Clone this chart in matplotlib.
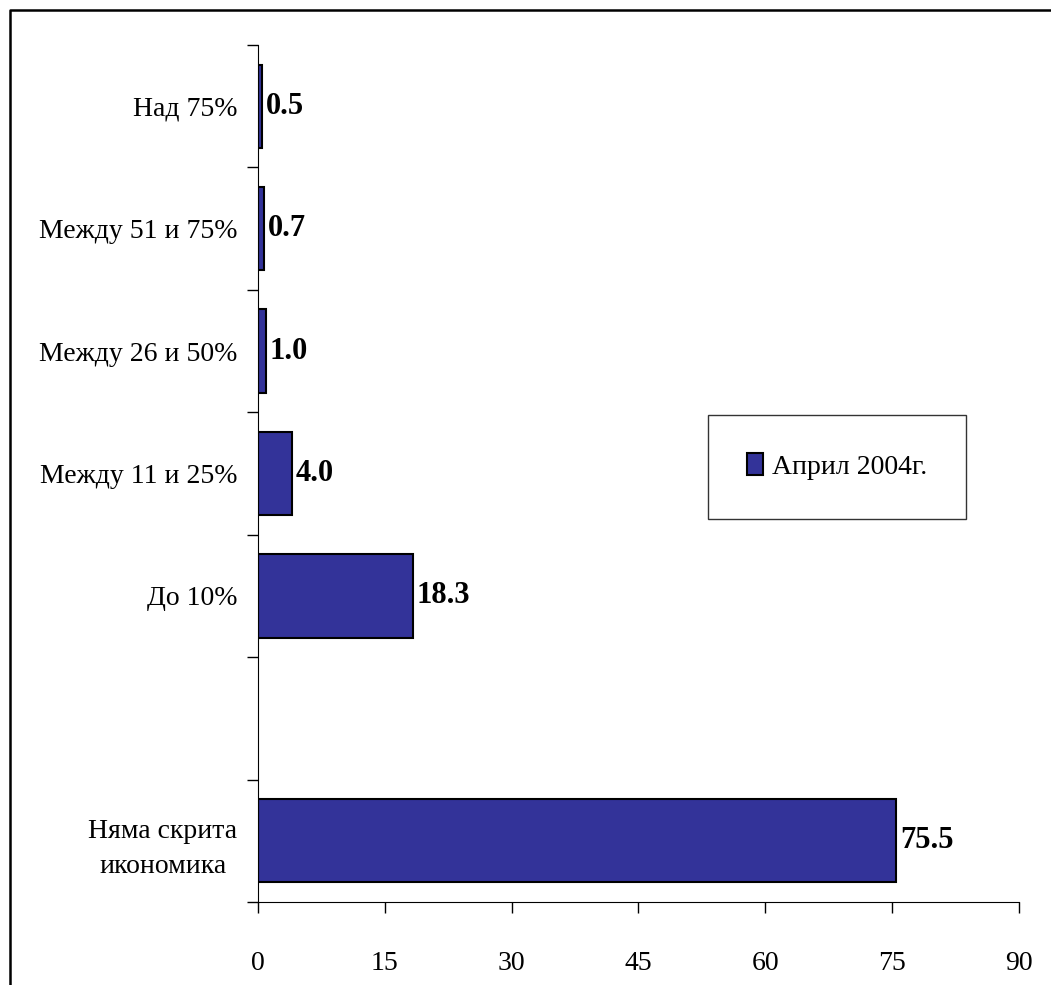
import matplotlib.pyplot as plt
import numpy as np
from matplotlib.lines import Line2D

# data, bottom to top ('' is the empty slot between the groups)
categories = ['Няма скрита\nикономика', '', 'До 10%', 'Между 11 и 25%',
              'Между 26 и 50%', 'Между 51 и 75%', 'Над 75%']
values = [75.5, np.nan, 18.3, 4.0, 1.0, 0.7, 0.5]
series_name = 'Април 2004г.'
x_ticks = [0, 15, 30, 45, 60, 75, 90]

plt.rcParams['font.family'] = ['Liberation Serif', 'DejaVu Serif']

fig = plt.figure(figsize=(10.51, 9.85), dpi=100)
ax = fig.add_axes([0.2455, 0.0843, 0.724, 0.870])

pos = np.arange(len(categories))
bars = ax.barh(pos, values, height=0.68, color='#333399',
               edgecolor='black', linewidth=1.5, label=series_name)

for p, v in zip(pos, values):
    if np.isnan(v):
        continue
    ax.annotate(f'{v:.1f}', (v, p), xytext=(2.5, 0), textcoords='offset points',
                ha='left', va='center', fontsize=22, fontweight='bold')

ax.set_xlim(0, 90)
ax.set_ylim(-0.5, len(categories) - 0.5)
ax.set_xticks(x_ticks)
ax.set_yticks(pos)
ax.set_yticklabels(categories)
ax.set_yticks(np.arange(-0.5, len(categories)), minor=True)
ax.tick_params(axis='y', which='major', length=0, pad=15, labelsize=20)
ax.tick_params(axis='y', which='minor', length=8, width=1, direction='out')
ax.tick_params(axis='x', length=8, width=1, direction='out', pad=27,
               labelsize=20)
for lbl in ax.get_yticklabels():
    lbl.set_multialignment('center')
    lbl.set_linespacing(1.55)

ax.spines['top'].set_visible(False)
ax.spines['right'].set_visible(False)

leg = ax.legend(loc='center', bbox_to_anchor=(0.7615, 0.508), fontsize=20,
                frameon=True, fancybox=False, borderpad=1.4,
                handlelength=0.55, handleheight=0.8, handletextpad=0.35)
leg.get_frame().set_edgecolor('black')
leg.get_frame().set_linewidth(1)

# outer frame (top and left edges visible)
fig.add_artist(Line2D([10 / 1051, 10 / 1051, 1.0], [0.0, 1 - 10 / 985, 1 - 10 / 985],
                      transform=fig.transFigure, color='black', linewidth=1.8))

fig.savefig('out.png', dpi=100)
